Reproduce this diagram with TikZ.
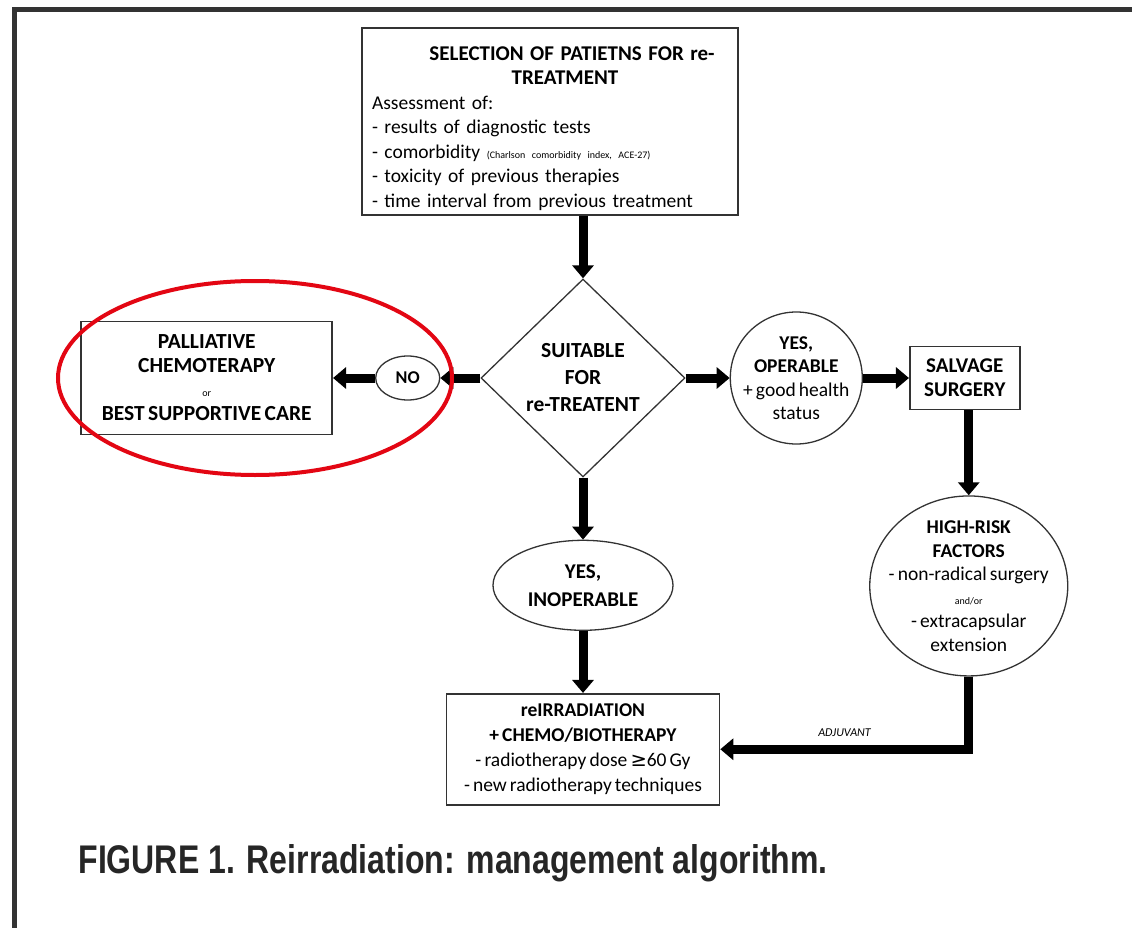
\documentclass[tikz,border=0pt]{standalone}
\usepackage{fontspec}
\setmainfont{Carlito}[WordSpace=0.7]
\newfontfamily\capfont[FakeStretch=0.8]{Liberation Sans Bold}
\newfontfamily\symfont{DejaVu Sans}
\usetikzlibrary{arrows.meta,positioning,shapes.geometric}
\definecolor{flowgray}{HTML}{333333}
\definecolor{ringred}{HTML}{E30613}

\begin{document}
\begin{tikzpicture}[
  x=1pt,y=1pt,
  every node/.style={font=\fontsize{19.5}{24}\selectfont},
  box/.style={draw=flowgray,line width=1.6pt,align=center,inner sep=0pt},
  roundbox/.style={draw=flowgray,line width=1.3pt,ellipse,align=center,inner xsep=-30pt,inner ysep=-8pt},
  arr/.style={line width=9pt,-{Triangle[length=13pt,width=21pt]}},
  ringstyle/.style={draw=ringred,line width=4pt}
]
\useasboundingbox (0,0) rectangle (1132,-928);
\draw[line width=5pt,draw=flowgray] (1132,-10) -- (14,-10) -- (14,-928);

\node[box,minimum width=376pt,minimum height=187pt,text width=356pt,align=left,font=\fontsize{19.5}{24.5}\selectfont] (select) at (550,-121.5) {%
  \centerline{\kern44pt\rule{0pt}{28pt}\fontsize{21}{24.5}\selectfont\bfseries SELECTION OF PATIETNS FOR re-}
  \centerline{\kern30pt\fontsize{21}{24.5}\selectfont\bfseries TREATMENT}
  Assessment of:\\
  - results of diagnostic tests\\
  - comorbidity {\fontsize{10}{12}\selectfont (Charlson comorbidity index, ACE-27)}\\
  - toxicity of previous therapies\\
  - time interval from previous treatment};

\node[diamond,draw=flowgray,line width=1.3pt,minimum width=204pt,minimum height=198pt,inner sep=-8pt,align=center,font=\bfseries\fontsize{21.5}{27}\selectfont] (suit) at (583,-378) {SUITABLE\\FOR\\re-TREATENT};

\node[roundbox,minimum width=64pt,minimum height=44pt,left=40pt of suit,font=\bfseries\fontsize{18}{20}\selectfont] (no) {NO};
\node[box,minimum width=251pt,minimum height=113pt,left=42pt of no,font=\bfseries\fontsize{21.5}{24}\selectfont] (palli) {PALLIATIVE\\CHEMOTERAPY\\{\fontsize{10}{12}\selectfont\mdseries or}\\BEST SUPPORTIVE CARE};

\node[circle,draw=flowgray,line width=1.3pt,minimum size=132pt,inner sep=-16pt,align=center,font=\fontsize{19.5}{23.5}\selectfont,right=44pt of suit] (oper) {\textbf{YES,}\\\textbf{OPERABLE}\\+ good health\\status};
\node[box,minimum width=110pt,minimum height=63pt,right=46pt of oper,font=\bfseries\fontsize{21}{24}\selectfont] (salv) {SALVAGE\\SURGERY};
\node[roundbox,minimum width=198pt,minimum height=180pt,below=85pt of salv,xshift=4pt,font=\fontsize{19.5}{23.5}\selectfont] (risk) {\textbf{HIGH-RISK}\\\textbf{FACTORS}\\- non-radical surgery\\{\fontsize{10}{12}\selectfont and/or}\\- extracapsular\\extension};

\node[roundbox,minimum width=180pt,minimum height=90pt,below=62pt of suit,font=\bfseries\fontsize{21}{28}\selectfont] (inop) {YES,\\INOPERABLE};
\node[box,minimum width=273pt,minimum height=111pt,below=62pt of inop,font=\fontsize{19.5}{25}\selectfont] (reirr) {\textbf{reIRRADIATION}\\\textbf{+ CHEMO/BIOTHERAPY}\\- radiotherapy dose {\symfont ≥}60 Gy\\- new radiotherapy techniques};

\draw[arr] (select.south -| suit.north) -- (suit.north);
\draw[arr] (suit.west) -- (no.east);
\draw[arr] (no.west) -- (palli.east);
\draw[arr] (suit.east) -- (oper.west);
\draw[arr] (oper.east) -- (salv.west);
\draw[arr] (salv.south -| risk.north) -- (risk.north);
\draw[arr] (suit.south) -- (inop.north);
\draw[arr] (inop.south) -- (reirr.north);
\draw[arr] (risk.south) |- node[pos=0.75,above=5pt,font=\itshape\fontsize{12}{14}\selectfont]{ADJUVANT} (reirr.east);

\draw[ringstyle] (255,-378) ellipse [x radius=197, y radius=97];

\node[anchor=base west,font=\capfont\fontsize{40}{46}\selectfont,text=black!85] (caption) at (75,-873) {FIGURE 1. Reirradiation: management algorithm.};
\end{tikzpicture}
\end{document}
